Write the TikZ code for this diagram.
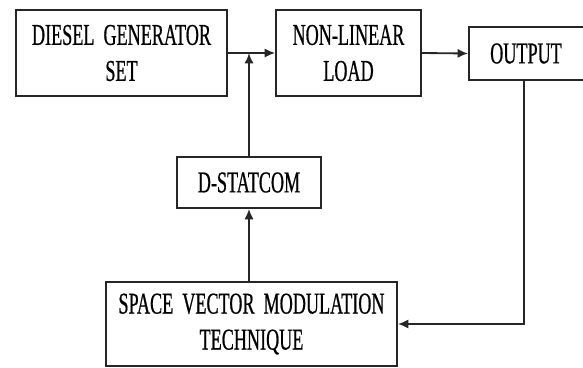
\documentclass[tikz,border=0pt]{standalone}
\usepackage{fontspec}
\newfontfamily\blockfont{Liberation Serif}[FakeStretch=0.6,FakeBold=0.6]
\usepackage{tikz}
\usetikzlibrary{arrows.meta,positioning,calc}

\begin{document}
\begin{tikzpicture}[x=0.025cm,y=-0.025cm,>=Latex,
  block/.style={draw=black!85,line width=1.4pt,align=center,inner sep=0pt,
    font=\blockfont\fontsize{21.5}{25.6}\selectfont},
  arrow/.style={-{Latex[length=2.6mm,width=2.3mm]},line width=1.3pt,draw=black!85}
]
\useasboundingbox (0,0) rectangle (583,367);
\node[block,minimum width=5.27cm,minimum height=2.15cm] (dg) at (121.5,53) {DIESEL\ \ GENERATOR\\SET};
\node[block,minimum width=3.62cm,minimum height=2.15cm] (load) at (348.5,53) {NON-LINEAR\\LOAD};
\node[block,minimum width=2.95cm,minimum height=1.32cm] (out) at (528,53.5) {\hspace*{-0.1cm}OUTPUT};
\node[block,minimum width=3.6cm,minimum height=1.27cm] (dstat) at (249,182.5) {D-STATCOM};
\node[block,minimum width=7.27cm,minimum height=2.1cm] (svm) at (251.5,324) {SPACE\ \ VECTOR\ \ MODULATION\\TECHNIQUE};
\draw[arrow] (dg.east) -- (load.west);
\draw[arrow] (load.east) -- (out.west);
\draw[arrow] (dstat.north) -- (dstat.north |- dg.east);
\draw[arrow] (dstat.south |- svm.north) -- (dstat.south);
\draw[arrow] ([xshift=-0.1cm]out.south) |- (svm.east);
\end{tikzpicture}
\end{document}
